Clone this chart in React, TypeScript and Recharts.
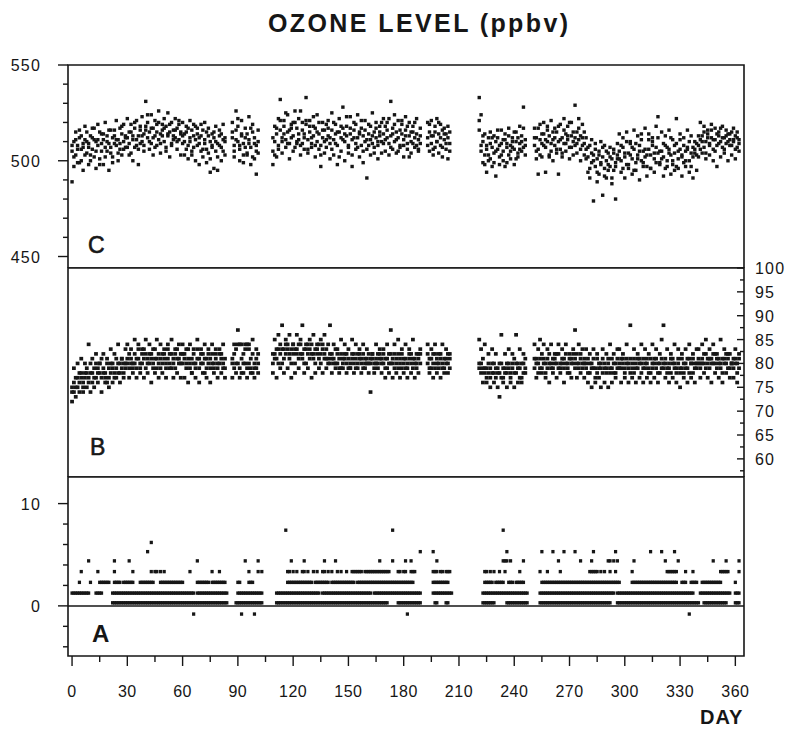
import { ScatterChart, Scatter, XAxis, YAxis, ReferenceArea, ReferenceLine } from 'recharts'

const INK = '#161616'
const FONT = '"Liberation Sans", Arial, Helvetica, sans-serif'
const WIDTH = 787

// day-of-year axis shared by the three panels
const dayDomain: [number, number] = [-2.2, 364.7]
const dayTicks = [0, 15, 30, 45, 60, 75, 90, 105, 120, 135, 150, 165, 180, 195, 210, 225, 240, 255, 270, 285, 300, 315, 330, 345, 360]
const dayLabels = [0, 30, 60, 90, 120, 150, 180, 210, 240, 270, 300, 330, 360]

const cDomain: [number, number] = [444, 550]
const cTicks = [450, 460, 470, 480, 490, 500, 510, 520, 530, 540, 550]
const cLabels = [450, 500, 550]

const bDomain: [number, number] = [56.2, 100]
const bTicks = [57.5, 60, 62.5, 65, 67.5, 70, 72.5, 75, 77.5, 80, 82.5, 85, 87.5, 90, 92.5, 95, 97.5, 100]
const bLabels = [60, 65, 70, 75, 80, 85, 90, 95, 100]

const aDomain: [number, number] = [-4.9, 12.6]
const aTicks = [-4, -2, 0, 2, 4, 6, 8, 10]
const aLabels = [0, 10]

// first day of each uninterrupted run of C and B readings
const segmentStart = [0, 87, 109, 193, 221, 251]

// panel C, three readings per day
const ozoneC1 = [
  [505, 510, 503, 508, 512, 500, 507, 511, 504, 509, 513, 506, 502, 510, 508, 515, 505, 511, 507, 513, 509, 504, 512, 516, 508, 511, 506, 514, 510, 507,
   512, 509, 515, 511, 517, 508, 513, 516, 510, 514, 518, 512, 515, 509, 517, 513, 519, 511, 514, 516, 510, 518, 513, 515, 509, 516, 512, 517, 511, 514,
   513, 510, 515, 508, 512, 516, 507, 511, 514, 509, 513, 506, 511, 515, 504, 510, 508, 512, 505, 509, 513, 507, 511, 510],
  [512, 508, 516, 510, 506, 514, 509, 512, 504, 511, 507, 515, 509, 505, 510],
  [505, 510, 514, 508, 516, 512, 518, 511, 515, 509, 517, 513, 520, 510, 514, 508, 516, 512, 519, 511, 515, 509, 513, 517, 510, 514, 508, 512, 516, 511,
   513, 509, 516, 511, 514, 508, 515, 512, 517, 510, 513, 507, 514, 511, 516, 509, 512, 515, 508, 513, 510, 506, 514, 511, 509, 515, 512, 508, 513, 510,
   514, 511, 516, 509, 513, 517, 510, 515, 512, 508, 514, 511, 516, 509, 513, 510, 515, 512, 508, 511, 513],
  [512, 515, 509, 513, 518, 510, 514, 508, 516, 511, 506, 512, 509],
  [516, 505, 510, 503, 508, 512, 501, 507, 504, 510, 506, 502, 509, 505, 511, 507, 503, 508, 512, 506, 510, 504, 509, 513, 507, 511],
  [508, 512, 506, 511, 509, 514, 507, 510, 513, 505, 511, 508, 515, 510, 506, 512, 509, 514, 511, 507, 513, 510, 508, 515, 511, 506, 512, 509,
   506, 502, 508, 499, 503, 497, 501, 505, 498, 502, 496, 500, 504, 497, 501, 495, 499, 503,
   505, 500, 507, 502, 498, 504, 509, 501, 506, 499, 503, 508, 500, 505, 502, 497, 506, 503, 510, 501, 507, 504, 499, 505, 502,
   508, 500, 506, 503, 498, 504, 509, 501, 506, 502, 499, 505, 507, 500, 504, 502, 506, 503,
   508, 511, 513, 507, 510, 514, 509, 512, 506, 511, 508, 513, 510, 507, 512, 509, 514, 511, 508, 510, 513, 507, 511],
]
const ozoneC2 = [
  [489, 497, 515, 499, 516, 506, 495, 518, 510, 498, 503, 517, 511, 496, 519, 501, 514, 498, 520, 505, 495, 516, 502, 509, 521, 500, 517, 503, 519, 513,
   522, 503, 519, 500, 507, 521, 498, 509, 523, 505, 531, 520, 506, 524, 503, 521, 508, 526, 504, 519, 522, 507, 525, 502, 520, 511, 522, 506, 519, 503,
   520, 503, 518, 501, 521, 505, 519, 500, 517, 498, 519, 502, 520, 499, 517, 494, 514, 496, 518, 495, 516, 500, 519, 503],
  [520, 502, 526, 518, 500, 521, 499, 517, 503, 523, 498, 519, 501, 493, 516],
  [498, 518, 502, 522, 532, 504, 521, 507, 524, 501, 519, 505, 526, 509, 522, 503, 520, 506, 533, 504, 521, 507, 518, 502, 524, 506, 497, 520, 504, 519,
   521, 501, 525, 503, 519, 498, 522, 505, 528, 500, 518, 504, 523, 497, 520, 506, 524, 502, 517, 499, 521, 491, 519, 503, 525, 507, 520, 501, 518, 504,
   522, 505, 520, 503, 531, 506, 524, 504, 521, 507, 519, 502, 523, 506, 520, 504, 518, 507, 522, 505, 509],
  [520, 505, 521, 503, 507, 522, 504, 519, 502, 517, 514, 501, 515],
  [533, 524, 499, 514, 494, 500, 515, 497, 513, 492, 512, 498, 516, 500, 514, 499, 517, 501, 510, 498, 515, 502, 518, 505, 528, 503],
  [517, 501, 493, 519, 502, 520, 494, 518, 503, 521, 500, 517, 504, 493, 519, 502, 522, 505, 518, 501, 520, 503, 529, 504, 517, 500, 519, 503,
   512, 494, 491, 511, 479, 509, 489, 493, 510, 482, 508, 491, 495, 507, 488, 506, 480, 509,
   514, 494, 512, 491, 515, 496, 510, 493, 516, 495, 513, 490, 511, 497, 517, 492, 514, 496, 512, 494, 518, 523, 498, 515, 492,
   513, 497, 516, 493, 511, 495, 522, 496, 514, 492, 512, 497, 516, 494, 513, 491, 510, 495,
   502, 520, 504, 518, 501, 516, 503, 519, 500, 517, 497, 515, 502, 518, 504, 516, 500, 514, 503, 517, 501, 515, 505],
]
const ozoneC3 = [
  [508, 502, 511, 506, 499, 513, 509, 503, 515, 507, 500, 512, 517, 505, 511, 498, 509, 514, 502, 510, 516, 507, 499, 513, 511, 504, 509, 518, 506, 512,
   507, 515, 504, 513, 520, 511, 506, 518, 513, 508, 516, 524, 510, 517, 512, 507, 515, 520, 509, 513, 517, 505, 514, 519, 508, 513, 516, 510, 521, 515,
   509, 514, 506, 517, 510, 503, 513, 518, 508, 512, 505, 516, 509, 506, 513, 501, 507, 515, 510, 502, 508, 514, 505, 512],
  [515, 505, 511, 522, 508, 513, 503, 507, 514, 509, 517, 502, 512, 508, 504],
  [512, 503, 517, 506, 521, 510, 514, 525, 509, 516, 512, 520, 507, 517, 511, 526, 509, 514, 521, 506, 518, 512, 523, 508, 515, 520, 503, 516, 510, 507,
   517, 512, 506, 520, 509, 515, 502, 518, 511, 514, 523, 508, 517, 503, 512, 519, 507, 514, 521, 505, 516, 511, 508, 518, 513, 504, 517, 510, 515, 520,
   509, 518, 512, 522, 507, 514, 519, 511, 505, 516, 521, 508, 513, 518, 502, 515, 509, 520, 514, 506, 517],
  [508, 519, 513, 506, 515, 510, 520, 512, 507, 514, 509, 518, 505],
  [521, 508, 513, 498, 506, 503, 509, 512, 499, 505, 516, 508, 503, 511, 497, 509, 513, 505, 507, 515, 501, 512, 506, 510, 517, 508],
  [512, 505, 517, 503, 514, 508, 511, 516, 502, 509, 515, 512, 506, 518, 511, 504, 516, 509, 513, 520, 507, 515, 512, 509, 522, 513, 508, 515,
   501, 507, 496, 504, 500, 506, 494, 503, 499, 507, 492, 505, 498, 502, 491, 504, 497, 501,
   501, 508, 496, 504, 510, 498, 503, 507, 495, 509, 501, 505, 514, 499, 506, 503, 511, 496, 508, 504, 499, 512, 505, 501, 509,
   496, 507, 504, 512, 500, 508, 497, 505, 511, 503, 508, 500, 506, 510, 497, 507, 504, 509,
   513, 506, 510, 515, 504, 512, 508, 516, 511, 505, 514, 509, 517, 512, 506, 513, 510, 508, 515, 511, 506, 512, 509],
]

// panel B, three readings per day
const ozoneB1 = [
  [74, 76, 75, 77, 76, 78, 76, 77, 79, 77, 78, 76, 79, 77, 78, 80, 77, 79, 78, 76, 79, 78, 80, 77, 79, 78, 80, 79, 78, 80,
   80, 79, 81, 80, 82, 79, 81, 80, 82, 81, 79, 81, 80, 82, 80, 81, 79, 82, 81, 80, 82, 79, 81, 80, 82, 81, 79, 81, 80, 82,
   80, 82, 79, 81, 80, 78, 82, 80, 81, 79, 82, 80, 78, 81, 80, 79, 82, 80, 81, 79, 80, 82, 79, 81],
  [81, 79, 83, 80, 84, 78, 82, 80, 79, 83, 81, 78, 80, 79, 82],
  [80, 82, 81, 83, 82, 80, 83, 82, 84, 81, 83, 82, 80, 83, 81, 84, 82, 80, 83, 82, 81, 84, 82, 80, 83, 81, 82, 84, 81, 83,
   81, 80, 82, 81, 80, 82, 81, 79, 81, 82, 80, 81, 79, 82, 80, 81, 80, 82, 81, 79, 81, 80, 82, 80, 81, 79, 80, 82, 81, 80,
   80, 81, 79, 82, 80, 81, 79, 80, 82, 81, 79, 80, 81, 79, 82, 80, 79, 81, 80, 82, 80],
  [80, 81, 79, 80, 82, 80, 79, 81, 80, 79, 81, 80, 79],
  [80, 78, 81, 79, 77, 80, 79, 78, 80, 77, 79, 78, 80, 77, 79, 78, 80, 77, 79, 81, 78, 80, 79, 77, 80, 79],
  [79, 81, 80, 79, 82, 80, 78, 81, 80, 79, 81, 80, 82, 79, 80, 81, 79, 82, 80, 78, 81, 80, 79, 82, 80, 81, 79, 80,
   79, 81, 78, 80, 79, 77, 81, 79, 80, 78, 80, 79, 81, 78, 79, 80, 78, 81,
   80, 79, 81, 78, 80, 79, 81, 80, 78, 79, 81, 80, 78, 79, 80, 81, 79, 78, 80, 81, 79, 80, 78, 81, 79,
   80, 78, 79, 81, 80, 79, 78, 80, 79, 81, 78, 80, 79, 81, 80, 78, 79, 80,
   80, 79, 81, 80, 82, 80, 79, 81, 80, 82, 79, 81, 80, 78, 81, 80, 79, 82, 80, 79, 81, 80, 79],
]
const ozoneB2 = [
  [72, 79, 73, 80, 74, 81, 74, 80, 75, 84, 74, 81, 75, 82, 76, 80, 74, 82, 76, 81, 75, 83, 76, 82, 77, 84, 76, 81, 77, 83,
   84, 77, 83, 78, 85, 77, 84, 78, 83, 77, 85, 78, 84, 76, 83, 78, 85, 77, 84, 78, 83, 77, 84, 79, 85, 77, 83, 78, 84, 77,
   84, 77, 83, 76, 84, 78, 83, 77, 85, 76, 83, 78, 84, 77, 83, 76, 84, 78, 82, 77, 83, 78, 84, 77],
  [77, 84, 78, 87, 77, 84, 78, 84, 77, 84, 78, 85, 77, 81, 78],
  [78, 85, 77, 86, 79, 88, 78, 85, 79, 86, 77, 84, 78, 86, 79, 85, 88, 78, 84, 79, 85, 77, 86, 78, 84, 79, 85, 78, 86, 79,
   84, 88, 78, 84, 79, 83, 78, 85, 79, 84, 78, 83, 79, 85, 78, 84, 79, 83, 78, 84, 79, 83, 78, 74, 82, 78, 84, 79, 83, 78,
   83, 77, 84, 78, 87, 77, 84, 78, 85, 77, 83, 78, 84, 77, 83, 78, 85, 77, 82, 78, 83],
  [84, 78, 83, 77, 84, 78, 82, 77, 84, 78, 83, 78, 82],
  [85, 83, 76, 84, 76, 82, 75, 83, 76, 82, 75, 73, 86, 76, 82, 75, 83, 76, 82, 75, 86, 76, 83, 76, 82, 78],
  [84, 77, 83, 85, 78, 84, 77, 83, 76, 84, 78, 82, 77, 84, 78, 83, 76, 84, 78, 82, 77, 83, 87, 77, 84, 78, 83, 77,
   83, 76, 82, 75, 83, 76, 82, 77, 75, 83, 76, 82, 75, 84, 76, 82, 77, 83,
   83, 76, 82, 77, 84, 76, 88, 77, 83, 76, 82, 77, 84, 76, 83, 77, 82, 76, 84, 77, 83, 76, 82, 85, 88,
   77, 83, 76, 82, 77, 84, 76, 83, 75, 82, 77, 83, 76, 84, 77, 82, 76, 83,
   83, 77, 84, 78, 85, 77, 83, 76, 84, 78, 82, 77, 85, 76, 83, 78, 82, 77, 80, 77, 83, 76, 82],
]
const ozoneB3 = [
  [75, 74, 77, 75, 78, 77, 75, 78, 78, 76, 80, 78, 77, 80, 79, 78, 81, 78, 77, 80, 77, 80, 79, 78, 81, 80, 78, 81, 80, 79,
   81, 82, 80, 79, 80, 81, 83, 79, 80, 83, 82, 80, 82, 81, 79, 83, 81, 80, 79, 82, 81, 80, 83, 82, 79, 80, 82, 83, 81, 80,
   82, 81, 80, 83, 79, 81, 80, 79, 83, 81, 80, 82, 81, 79, 82, 81, 80, 79, 83, 80, 82, 81, 80, 79],
  [80, 82, 80, 84, 79, 81, 80, 83, 84, 80, 79, 82, 79, 83, 80],
  [82, 81, 83, 80, 84, 83, 81, 84, 83, 82, 80, 84, 83, 82, 84, 82, 81, 83, 80, 84, 83, 82, 81, 83, 82, 84, 80, 83, 82, 81,
   80, 82, 81, 80, 83, 80, 79, 82, 80, 81, 82, 79, 80, 81, 82, 79, 82, 81, 80, 82, 80, 81, 80, 81, 82, 80, 81, 80, 82, 81,
   82, 79, 81, 80, 82, 80, 82, 81, 79, 80, 82, 81, 79, 80, 81, 82, 81, 80, 79, 81, 82],
  [82, 79, 81, 82, 79, 81, 80, 82, 79, 81, 80, 82, 81],
  [79, 80, 79, 78, 79, 78, 77, 80, 78, 79, 78, 80, 77, 79, 78, 80, 79, 78, 80, 78, 80, 79, 77, 80, 78, 81],
  [81, 80, 78, 81, 79, 81, 80, 79, 82, 80, 79, 81, 80, 82, 79, 80, 81, 80, 79, 81, 80, 82, 81, 80, 79, 82, 80, 81,
   80, 78, 80, 79, 81, 79, 78, 80, 79, 81, 79, 78, 80, 79, 81, 78, 80, 79,
   79, 81, 80, 79, 81, 80, 78, 79, 81, 80, 79, 81, 80, 81, 79, 80, 78, 81, 79, 80, 81, 78, 80, 79, 80,
   81, 79, 80, 78, 81, 80, 79, 81, 78, 79, 80, 79, 81, 78, 80, 81, 80, 79,
   81, 80, 80, 82, 79, 81, 81, 80, 82, 80, 81, 80, 79, 81, 80, 82, 81, 79, 80, 81, 80, 78, 81],
]

// panel A: readings are quantised, so each level lists the days it was recorded
const aLevels = [-0.8, 0.3, 1.25, 2.3, 3.35, 4.4, 5.3, 6.2, 7.4]
const aDays = [
  [66, 92, 99, 182, 335],
  [22, 23, 24, 25, 26, 27, 28, 29, 30, 31, 32, 33, 34, 35, 36, 37, 38, 39, 40, 41, 42, 43, 44, 45, 46, 47, 48, 49, 50, 51, 52, 53, 54,
   55, 56, 57, 58, 59, 60, 61, 62, 63, 64, 65, 66, 67, 68, 69, 70, 71, 72, 73, 74, 75, 76, 77, 78, 79, 80, 81, 82, 83, 84,
   89, 90, 91, 92, 93, 94, 95, 96, 97, 98, 99, 100, 101, 102, 103,
   111, 112, 113, 114, 115, 116, 117, 118, 119, 120, 121, 122, 123, 124, 125, 126, 127, 128, 129, 130, 131, 132, 133, 134, 135, 136,
   137, 138, 139, 140, 141, 142, 143, 144, 145, 146, 147, 148, 149, 150, 151, 152, 153, 154, 155, 156, 157, 158, 159, 160, 161, 162,
   163, 164, 165, 166, 167, 168, 169, 170, 171,
   177, 178, 179, 180, 181, 182, 183, 184, 185, 186, 187, 188, 189, 197, 198, 203, 204,
   223, 224, 225, 226, 227, 228, 229, 236, 237, 238, 239, 240, 241, 242, 243, 244, 245, 246, 247,
   254, 255, 256, 257, 258, 259, 260, 261, 262, 263, 264, 265, 266, 267, 268, 269, 270, 271, 272, 273, 274, 275, 276, 277, 278, 279,
   280, 281, 282, 283, 284, 285, 286, 287, 288, 289, 290, 291, 292,
   296, 297, 298, 299, 300, 301, 302, 303, 304, 305, 306, 307, 308, 309, 310, 311, 312, 313, 314, 315, 316, 317, 318, 319, 320, 321,
   322, 323, 324, 325, 326, 327, 328, 329, 330, 331, 332, 333, 334, 335, 336, 337, 338, 339, 340,
   343, 344, 345, 346, 347, 348, 349, 350, 351, 352, 353, 354, 355, 360, 361, 362],
  [0, 1, 2, 3, 4, 5, 6, 7, 8, 9, 13, 14, 15, 16,
   22, 23, 24, 25, 26, 27, 28, 29, 30, 31, 32, 33, 34, 35, 36, 37, 38, 39, 40, 41, 42, 43, 44, 45, 46, 47, 48, 49, 50, 51, 52, 53, 54,
   55, 56, 57, 58, 59, 60, 61, 62, 63, 64, 65, 66, 68, 69, 70, 71, 72, 73, 74, 75, 76, 77, 78, 79, 80, 81, 82, 83, 84,
   90, 91, 92, 93, 94, 95, 96, 97, 98, 99, 100, 101, 102, 103,
   111, 112, 113, 114, 115, 116, 117, 118, 119, 120, 121, 122, 123, 124, 125, 126, 127, 128, 129, 130, 131, 132, 133, 134,
   136, 137, 138, 139, 140, 141, 142, 143, 144, 145, 146, 147, 148, 149, 150, 151, 152, 153, 154, 155, 156, 157, 158, 159, 160, 161, 162,
   164, 165, 166, 167, 168, 169, 170, 171, 172, 173, 174, 175, 176, 177, 178, 179, 180, 181, 182, 183, 184, 185, 186, 187, 188, 189,
   196, 197, 198, 199, 200, 201, 202, 203, 204, 205, 206,
   223, 224, 225, 226, 227, 228, 229, 230, 231, 232, 233, 234, 235, 236, 237, 238, 239, 240, 241, 242, 243, 244, 245, 246, 247,
   254, 255, 256, 257, 258, 259, 260, 261, 262, 263, 264, 265, 266, 267, 268, 269, 270, 271, 272, 273, 274, 275, 276, 277, 278, 279,
   280, 281, 282, 283, 284, 285, 286, 287, 288, 289, 290, 291, 292, 293, 294,
   296, 297, 298, 299, 300, 301, 302, 303, 304, 305, 306, 307, 308, 309, 310, 311, 312, 313, 314, 315, 316, 317, 318, 319, 320, 321,
   322, 323, 324, 325, 326, 327, 328, 329, 330, 331, 332, 333, 334, 335, 336, 337,
   341, 342, 343, 344, 345, 346, 347, 348, 349, 350, 351, 352, 353, 354, 355, 356, 357, 360, 361, 362],
  [4, 10, 15, 16, 17, 18, 19, 20, 23, 24, 25, 26, 28, 29, 30, 31, 32, 33, 37, 38, 39, 40, 41, 42, 43, 44,
   48, 49, 50, 51, 52, 53, 54, 55, 56, 57, 58, 59, 60, 68, 69, 70, 71, 72, 73, 74, 76, 77, 78, 79, 80, 81, 82, 83,
   90, 91, 96, 97, 98,
   117, 118, 119, 120, 121, 122, 123, 124, 125, 126, 127, 128, 129, 130, 132, 133, 134, 135, 136, 137, 138, 139,
   141, 142, 143, 144, 145, 146, 147, 148, 149, 150, 151, 152, 153,
   155, 156, 157, 158, 159, 160, 161, 162, 163, 164, 165, 166, 167, 168, 169, 170, 171, 172, 173, 174, 175, 176, 177, 178, 179, 180,
   181, 182, 183, 184, 185, 196, 197, 198, 199, 200, 201, 202, 203, 204,
   224, 225, 226, 227, 228, 230, 231, 232, 233, 234, 237, 238, 239, 241, 242, 243, 244, 245,
   255, 256, 257, 258, 259, 260, 261, 262, 263, 264, 265, 266, 267, 268, 269, 270, 271, 272, 273, 274, 275, 276, 277, 278, 279,
   280, 281, 282, 283, 284, 285, 286, 287, 288, 289, 290, 291, 292, 293, 294, 295, 296, 297,
   304, 305, 306, 307, 308, 309, 310, 311, 312, 313, 314, 315, 316, 317, 318, 319, 320, 321, 322, 323, 324, 325, 326, 327, 328,
   331, 332, 333, 336, 337, 338, 339, 342, 343, 344, 345, 346, 347, 348, 349, 350, 351, 352, 360],
  [5, 14, 23, 33, 43, 45, 46, 48, 50, 64, 76, 80, 96, 101, 103, 117, 118, 120, 122, 125, 126, 128, 131, 133, 136, 137, 139, 141,
   144, 146, 149, 152, 153, 154, 155, 156, 157, 159, 160, 161, 162, 163, 164, 165, 166, 167, 168, 169, 170, 171, 172, 177, 178,
   180, 181, 184, 185, 186, 196, 197, 198, 200, 201, 203, 204, 205, 224, 225, 227, 229, 232, 235, 243, 254, 258, 265,
   281, 282, 283, 284, 285, 287, 289, 292, 295, 304, 323, 324, 325, 326, 327, 328, 333, 337, 352, 353, 354, 355, 356, 362],
  [9, 23, 31, 68, 94, 101, 119, 126, 137, 143, 167, 174, 181, 184, 198, 234, 235, 236, 238, 245, 264, 276, 282, 291, 292, 294,
   296, 305, 322, 329, 348, 355, 362],
  [41, 189, 196, 236, 255, 261, 267, 273, 283, 295, 314, 320, 327],
  [43],
  [116, 174, 234],
]

type Point = { day: number; v: number }

function fromSegments(series: number[][]): Point[] {
  const out: Point[] = []
  series.forEach((seg, s) => seg.forEach((v, i) => out.push({ day: segmentStart[s] + i, v })))
  return out
}

const pointsC = [ozoneC1, ozoneC2, ozoneC3].map(fromSegments)
const pointsB = [ozoneB1, ozoneB2, ozoneB3].map(fromSegments)
const pointsA: Point[] = aLevels.flatMap((level, k) => aDays[k].map((day) => ({ day, v: level })))

// small filled squares, like a dot-matrix plotter
function square(w: number, h: number) {
  return (props: any) => (
    <rect x={props.cx - w / 2} y={props.cy - h / 2} width={w} height={h} fill={INK} />
  )
}

const labelStyle = { fontFamily: FONT, fontSize: 16, fill: INK, letterSpacing: 1.2 }

function leftTick(labels: number[]) {
  return (props: any) => {
    const { x, y, payload } = props
    const major = labels.includes(payload.value)
    return (
      <g>
        <line x1={x - (major ? 10 : 5)} x2={x} y1={y} y2={y} stroke={INK} strokeWidth={1.4} />
        {major && (
          <text x={x - 27} y={y + 6} textAnchor="end" {...labelStyle}>
            {payload.value}
          </text>
        )}
      </g>
    )
  }
}

function rightTick(labels: number[]) {
  return (props: any) => {
    const { x, y, payload } = props
    const major = labels.includes(payload.value)
    return (
      <g>
        <line x1={x - (major ? 7 : 4)} x2={x} y1={y} y2={y} stroke={INK} strokeWidth={1.4} />
        {major && (
          <text x={x + 11} y={y + 6} textAnchor="start" {...labelStyle}>
            {payload.value}
          </text>
        )}
      </g>
    )
  }
}

function dayTick(props: any) {
  const { x, y, payload } = props
  const major = dayLabels.includes(payload.value)
  return (
    <g>
      <line x1={x} x2={x} y1={y} y2={y + (major ? 10 : 6)} stroke={INK} strokeWidth={1.4} />
      {major && (
        <text x={x} y={y + 41} textAnchor="middle" {...labelStyle} letterSpacing={0.5}>
          {payload.value}
        </text>
      )}
    </g>
  )
}

export default function App() {
  return (
    <div style={{ position: 'absolute', left: 0, top: 0, width: WIDTH, height: 730, background: '#fff' }}>
      <div style={{ position: 'absolute', left: 0, top: 0 }}>
        <ScatterChart width={WIDTH} height={268} margin={{ top: 65, right: 43, bottom: 0, left: 0 }}>
          <XAxis type="number" dataKey="day" domain={dayDomain} allowDataOverflow hide />
          <YAxis
            type="number"
            dataKey="v"
            domain={cDomain}
            allowDataOverflow
            ticks={cTicks}
            interval={0}
            width={68}
            axisLine={false}
            tickLine={false}
            tickSize={0}
            tickMargin={0}
            tick={leftTick(cLabels)}
          />
          <ReferenceArea x1={dayDomain[0]} x2={dayDomain[1]} y1={cDomain[0]} y2={cDomain[1]} fill="none" stroke={INK} strokeWidth={1.6} ifOverflow="visible" />
          {pointsC.map((pts, i) => (
            <Scatter key={i} data={pts} shape={square(3.4, 3.4)} isAnimationActive={false} />
          ))}
        </ScatterChart>
      </div>

      <div style={{ position: 'absolute', left: 0, top: 250 }}>
        <ScatterChart width={WIDTH} height={227} margin={{ top: 18, right: 0, bottom: 0, left: 68 }}>
          <XAxis type="number" dataKey="day" domain={dayDomain} allowDataOverflow hide />
          <YAxis
            type="number"
            dataKey="v"
            orientation="right"
            domain={bDomain}
            allowDataOverflow
            ticks={bTicks}
            interval={0}
            width={43}
            axisLine={false}
            tickLine={false}
            tickSize={0}
            tickMargin={0}
            tick={rightTick(bLabels)}
          />
          <ReferenceArea x1={dayDomain[0]} x2={dayDomain[1]} y1={bDomain[0]} y2={bDomain[1]} fill="none" stroke={INK} strokeWidth={1.6} ifOverflow="visible" />
          {pointsB.map((pts, i) => (
            <Scatter key={i} data={pts} shape={square(3.8, 3.6)} isAnimationActive={false} />
          ))}
        </ScatterChart>
      </div>

      <div style={{ position: 'absolute', left: 0, top: 470 }}>
        <ScatterChart width={WIDTH} height={260} margin={{ top: 7, right: 43, bottom: 0, left: 0 }}>
          <XAxis
            type="number"
            dataKey="day"
            domain={dayDomain}
            allowDataOverflow
            ticks={dayTicks}
            interval={0}
            height={74}
            axisLine={false}
            tickLine={false}
            tickSize={0}
            tickMargin={0}
            tick={dayTick}
          />
          <YAxis
            type="number"
            dataKey="v"
            domain={aDomain}
            allowDataOverflow
            ticks={aTicks}
            interval={0}
            width={68}
            axisLine={false}
            tickLine={false}
            tickSize={0}
            tickMargin={0}
            tick={leftTick(aLabels)}
          />
          <ReferenceArea x1={dayDomain[0]} x2={dayDomain[1]} y1={aDomain[0]} y2={aDomain[1]} fill="none" stroke={INK} strokeWidth={1.6} ifOverflow="visible" />
          <ReferenceLine y={0} stroke={INK} strokeWidth={1.5} />
          <Scatter data={pointsA} shape={square(3.2, 3.4)} isAnimationActive={false} />
        </ScatterChart>
      </div>

      <svg width={WIDTH} height={730} style={{ position: 'absolute', left: 0, top: 0, pointerEvents: 'none' }}>
        <text x={268} y={32} fontFamily={FONT} fontSize={25} fontWeight="bold" letterSpacing={2.4} fill={INK}>
          OZONE LEVEL (ppbv)
        </text>
        <text x={88} y={253} fontFamily={FONT} fontSize={23} fill={INK} stroke={INK} strokeWidth={0.6}>C</text>
        <text x={90} y={455} fontFamily={FONT} fontSize={23} fill={INK} stroke={INK} strokeWidth={0.6}>B</text>
        <text x={92} y={642} fontFamily={FONT} fontSize={24} fontWeight="bold" fill={INK}>A</text>
        <text x={700} y={724} fontFamily={FONT} fontSize={20} fontWeight="bold" letterSpacing={1} fill={INK}>DAY</text>
      </svg>
    </div>
  )
}
